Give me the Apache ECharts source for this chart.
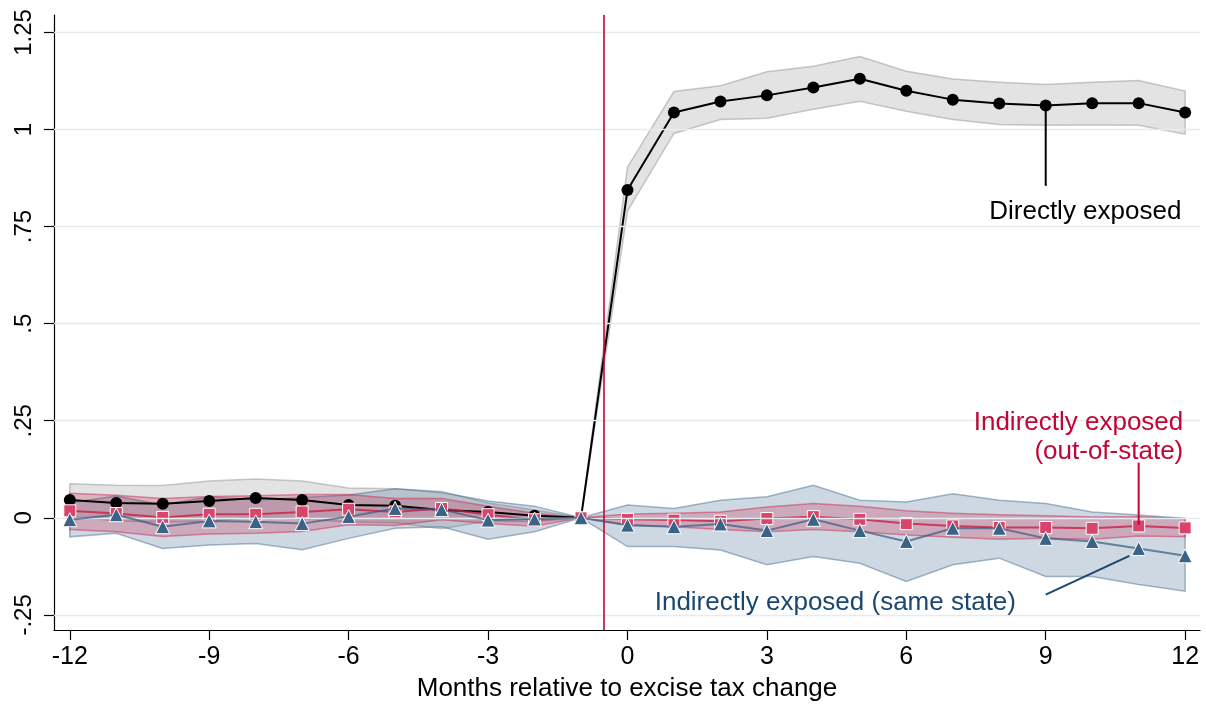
<!DOCTYPE html>
<html>
<head>
<meta charset="utf-8">
<script src="https://cdn.jsdelivr.net/npm/echarts@6/dist/echarts.min.js"></script>
<style>html,body{margin:0;padding:0;background:#fff}#c{width:1206px;height:707px}</style>
</head>
<body>
<div id="c"></div>
<script>
const months = [-12,-11,-10,-9,-8,-7,-6,-5,-4,-3,-2,-1,0,1,2,3,4,5,6,7,8,9,10,11,12];
const direct   = [0.046,0.038,0.036,0.043,0.051,0.046,0.033,0.031,0.020,0.015,0.005,0,0.844,1.044,1.072,1.088,1.108,1.131,1.100,1.077,1.067,1.062,1.068,1.068,1.044];
const directHi = [0.088,0.084,0.083,0.095,0.100,0.095,0.077,0.075,0.068,0.038,0.020,0,0.903,1.098,1.113,1.149,1.163,1.188,1.150,1.130,1.122,1.116,1.122,1.126,1.099];
const directLo = [0.004,-0.008,-0.011,-0.009,0.002,-0.003,-0.011,-0.013,-0.028,-0.008,-0.010,0,0.790,0.990,1.026,1.029,1.052,1.073,1.047,1.026,1.013,1.011,1.012,1.011,0.988];
const outState   = [0.018,0.011,0.001,0.009,0.009,0.015,0.022,0.015,0.024,0.008,-0.005,0,-0.004,-0.006,-0.009,-0.002,0.003,-0.004,-0.015,-0.021,-0.025,-0.025,-0.027,-0.021,-0.026];
const outStateHi = [0.063,0.058,0.050,0.055,0.057,0.060,0.060,0.050,0.050,0.030,0.012,0,0.010,0.012,0.015,0.028,0.037,0.030,0.018,0.012,0.008,0.005,0.002,0.003,-0.002];
const outStateLo = [-0.030,-0.036,-0.048,-0.042,-0.040,-0.035,-0.018,-0.020,-0.005,-0.015,-0.022,0,-0.018,-0.023,-0.030,-0.036,-0.030,-0.036,-0.044,-0.050,-0.055,-0.053,-0.055,-0.047,-0.049];
const sameState   = [-0.005,0.008,-0.023,-0.008,-0.010,-0.015,0.003,0.024,0.021,-0.006,-0.003,0,-0.019,-0.023,-0.016,-0.033,-0.004,-0.033,-0.061,-0.027,-0.027,-0.053,-0.061,-0.079,-0.098];
const sameStateHi = [0.039,0.056,0.033,0.054,0.046,0.052,0.059,0.075,0.065,0.043,0.030,0,0.033,0.024,0.045,0.054,0.084,0.045,0.041,0.062,0.045,0.037,0.015,0.007,-0.002];
const sameStateLo = [-0.049,-0.040,-0.079,-0.070,-0.066,-0.082,-0.053,-0.027,-0.023,-0.055,-0.036,0,-0.074,-0.074,-0.083,-0.121,-0.100,-0.117,-0.164,-0.121,-0.104,-0.151,-0.151,-0.172,-0.189];
const xTicks = [-12,-9,-6,-3,0,3,6,9,12];
const yTicks = [-0.25,0,0.25,0.5,0.75,1,1.25];
const yTickLabels = ['-.25','0','.25','.5','.75','1','1.25'];
const xTitle = 'Months relative to excise tax change';
const eventLine = -0.5;
const annotations = [
  {lines:['Directly exposed'], color:'#000000', anchor:[11.92,0.789], from:[9,1.062], to:[9,0.855]},
  {lines:['Indirectly exposed','(out-of-state)'], color:'#c10534', anchor:[11.96,0.206], from:[11,0.142], to:[11,-0.018]},
  {lines:['Indirectly exposed (same state)'], color:'#1a476f', anchor:[8.36,-0.218], from:[9,-0.198], to:[10.8,-0.098]}
];

const FONT = '"Liberation Sans", Arial, Helvetica, sans-serif';
const pairs = a => months.map((m,i)=>[m,a[i]]);

function bandSeries(name, lo, hi, fill, stroke, z){
  return {
    type:'custom', name, z, silent:true,
    data: months.map((m,i)=>[m, lo[i], hi[i]]),
    encode:{x:0, y:[1,2]},
    renderItem(params, api){
      if(params.dataIndex !== 0) return null;
      const up = months.map((m,i)=>api.coord([m,hi[i]]));
      const dn = months.map((m,i)=>api.coord([m,lo[i]])).reverse();
      return {type:'polygon', shape:{points: up.concat(dn)},
        style:{fill, stroke, lineWidth:1.5}};
    }
  };
}

const chart = echarts.init(document.getElementById('c'), null, {renderer:'canvas'});
const option = {
  animation:false,
  backgroundColor:'#ffffff',
  grid:{left:54, right:6, top:15, bottom:72, containLabel:false},
  xAxis:{
    type:'value', min:-12.34, max:12.32,
    name: xTitle, nameLocation:'middle', nameGap:46,
    nameTextStyle:{fontFamily:FONT, fontSize:26, color:'#000'},
    axisLine:{show:true, onZero:false, lineStyle:{color:'#000', width:1.2}},
    axisTick:{show:true, length:10, customValues:xTicks, lineStyle:{color:'#000', width:1.2}},
    axisLabel:{customValues:xTicks, fontFamily:FONT, fontSize:25, color:'#000', margin:15},
    splitLine:{show:false}
  },
  yAxis:{
    type:'value', min:-0.289, max:1.295,
    axisLine:{show:true, onZero:false, lineStyle:{color:'#000', width:1.2}},
    axisTick:{show:true, length:10, customValues:yTicks, lineStyle:{color:'#000', width:1.2}},
    axisLabel:{customValues:yTicks, rotate:90, fontFamily:FONT, fontSize:24, color:'#000', margin:18,
      formatter:v=>{const i=yTicks.findIndex(t=>Math.abs(t-v)<1e-9);return i>=0?yTickLabels[i]:'';}},
    splitLine:{show:false}
  },
  series:[
    {type:'line', name:'grid', data:[], silent:true, z:0,
      markLine:{silent:true, symbol:'none', label:{show:false},
        lineStyle:{color:'#e4ecf0', width:1.3, type:'solid'},
        data: yTicks.map(v=>({yAxis:v}))}},
    bandSeries('directCI', directLo, directHi, 'rgba(150,150,150,0.27)', 'rgba(150,150,150,0.5)', 1),
    bandSeries('sameCI', sameStateLo, sameStateHi, 'rgba(60,100,140,0.25)', 'rgba(60,100,140,0.45)', 1),
    bandSeries('outCI', outStateLo, outStateHi, 'rgba(200,30,70,0.25)', 'rgba(200,30,70,0.45)', 1),
    {type:'line', name:'event', data:[], silent:true, z:2,
      markLine:{silent:true, symbol:'none', label:{show:false},
        lineStyle:{color:'#c10534', width:1.6, type:'solid'},
        data:[{xAxis:eventLine}]}},
    {type:'line', name:'Directly exposed', data:pairs(direct), z:3,
      lineStyle:{color:'#000', width:2}, itemStyle:{color:'#000'},
      symbol:'circle', symbolSize:12, showSymbol:true},
    {type:'line', name:'Indirectly exposed (out-of-state)', data:pairs(outState), z:4,
      lineStyle:{color:'rgba(200,30,70,0.8)', width:2},
      itemStyle:{color:'#d9446a', borderColor:'#ffffff', borderWidth:1},
      symbol:'rect', symbolSize:12, showSymbol:true},
    {type:'line', name:'Indirectly exposed (same state)', data:pairs(sameState), z:5,
      lineStyle:{color:'rgba(60,92,130,0.72)', width:2},
      itemStyle:{color:'#3b6387', borderColor:'#ffffff', borderWidth:1},
      symbol:'triangle', symbolSize:14, showSymbol:true},
    {type:'custom', name:'annotations', z:6, silent:true,
      data: annotations.map(a=>a.anchor),
      encode:{x:0, y:1},
      renderItem(params, api){
        const a = annotations[params.dataIndex];
        const p = api.coord(a.anchor);
        const p1 = api.coord(a.from), p2 = api.coord(a.to);
        const lh = 29;
        const children = [{type:'line', shape:{x1:p1[0], y1:p1[1], x2:p2[0], y2:p2[1]},
          style:{stroke:a.color, lineWidth:2}}];
        a.lines.forEach((t,k)=>{
          children.push({type:'text', x:p[0], y:p[1] + (k-(a.lines.length-1)/2)*lh,
            style:{text:t, fill:a.color, font:'26px '+FONT, textAlign:'right', textVerticalAlign:'middle'}});
        });
        return {type:'group', children};
      }}
  ]
};
chart.setOption(option);
</script>
</body>
</html>
